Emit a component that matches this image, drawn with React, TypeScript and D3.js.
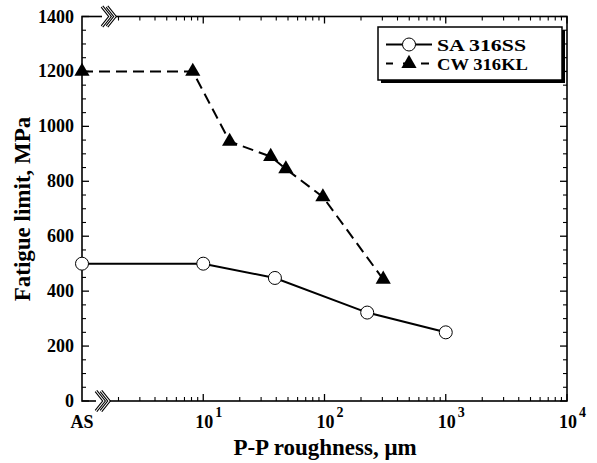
import React from "react";
import * as d3 from "d3";

// data (x: P-P roughness in um, "AS" drawn at x = 1)
const saX = [1, 10, 39, 225, 1000];
const saY = [500, 500, 448, 322, 250];
const cwX = [1, 8.2, 16.5, 36, 48, 97, 305];
const cwY = [1200, 1200, 945, 890, 845, 743, 443];
const yTicks = [0, 200, 400, 600, 800, 1000, 1200, 1400];
const xExpTicks = [1, 2, 3, 4];
const legendNames = ["SA 316SS", "CW 316KL"];

const W = 597;
const H = 463;
const left = 82;
const right = 567;
const top = 16.5;
const bottom = 401;
const font = "'Liberation Serif', 'Times New Roman', serif";

export default function App() {
  const x = d3.scaleLog().domain([1, 10000]).range([left, right]);
  const y = d3.scaleLinear().domain([0, 1400]).range([bottom, top]);

  const saLine = d3.line<number>().x((d, i) => x(saX[i])).y(d => y(d))(saY) || "";
  const cwLine = d3.line<number>().x((d, i) => x(cwX[i])).y(d => y(d))(cwY) || "";

  const minorX: number[] = [];
  for (let e = 0; e < 4; e++) {
    for (let m = 2; m <= 9; m++) minorX.push(m * Math.pow(10, e));
  }
  const minorY = d3.range(50, 1400, 50).filter(v => v % 200 !== 0);

  const tri = d3.symbol().type(d3.symbolTriangle).size(100)() || "";

  // break marks (double chevrons) on the x axes
  const chev = (cx: number, cy: number) => {
    const pts = (dx: number) =>
      `M${cx - 6 + dx},${cy - 10} L${cx + 2 + dx},${cy} L${cx - 6 + dx},${cy + 10}`;
    return (
      <g>
        <rect x={cx - 6} y={cy - 2} width={13} height={4} fill="white" />
        {[0, 5].map(dx => (
          <g key={dx}>
            <path d={pts(dx)} fill="none" stroke="black" strokeWidth={3.2} />
            <path d={pts(dx)} fill="none" stroke="white" strokeWidth={1.1} />
          </g>
        ))}
      </g>
    );
  };

  const rowY = [44.5, 63.5];

  return (
    <svg width={W} height={H} style={{ position: "absolute", left: 0, top: 0, background: "white" }}
      fontFamily={font} fontWeight="bold">
      {/* frame */}
      <rect x={left} y={top} width={right - left} height={bottom - top} fill="none" stroke="black" strokeWidth={1.6} />

      {/* y ticks, left and right, pointing in */}
      {yTicks.map(v => (
        <g key={"y" + v}>
          <line x1={left} x2={left + 7} y1={y(v)} y2={y(v)} stroke="black" strokeWidth={1.3} />
          <line x1={right} x2={right - 7} y1={y(v)} y2={y(v)} stroke="black" strokeWidth={1.3} />
          <text x={left - 8} y={y(v) + 6} textAnchor="end" fontSize={18}>{v}</text>
        </g>
      ))}
      {minorY.map(v => (
        <g key={"ym" + v}>
          <line x1={left} x2={left + 4} y1={y(v)} y2={y(v)} stroke="black" strokeWidth={1.1} />
          <line x1={right} x2={right - 4} y1={y(v)} y2={y(v)} stroke="black" strokeWidth={1.1} />
        </g>
      ))}

      {/* x ticks, bottom and top */}
      {xExpTicks.map(e => {
        const xv = x(Math.pow(10, e));
        return (
          <g key={"x" + e}>
            <line x1={xv} x2={xv} y1={bottom} y2={bottom - 7} stroke="black" strokeWidth={1.3} />
            <line x1={xv} x2={xv} y1={top} y2={top + 7} stroke="black" strokeWidth={1.3} />
            <text x={xv + 1} y={428} textAnchor="middle" fontSize={18}>10</text>
            <text x={xv + 12} y={417} textAnchor="start" fontSize={14}>{e}</text>
          </g>
        );
      })}
      {minorX.map(v => (
        <g key={"xm" + v}>
          <line x1={x(v)} x2={x(v)} y1={bottom} y2={bottom - 4} stroke="black" strokeWidth={1.1} />
          <line x1={x(v)} x2={x(v)} y1={top} y2={top + 4} stroke="black" strokeWidth={1.1} />
        </g>
      ))}
      <text x={left} y={428} textAnchor="middle" fontSize={18}>AS</text>

      {chev(102, bottom)}
      {chev(108, top)}

      {/* series */}
      <path d={cwLine} fill="none" stroke="black" strokeWidth={2} strokeDasharray="11,6" />
      <path d={saLine} fill="none" stroke="black" strokeWidth={2} />
      {saY.map((v, i) => (
        <circle key={"s" + i} cx={x(saX[i])} cy={y(v)} r={6.5} fill="white" stroke="black" strokeWidth={1} />
      ))}
      {cwY.map((v, i) => (
        <path key={"c" + i} d={tri} transform={`translate(${x(cwX[i])},${y(v)})`} fill="black" />
      ))}

      {/* legend */}
      <rect x={381} y={30} width={184} height={53} fill="black" />
      <rect x={378} y={27} width={184} height={53} fill="white" stroke="black" strokeWidth={1.5} />
      <line x1={386} x2={432} y1={rowY[0]} y2={rowY[0]} stroke="black" strokeWidth={2} />
      <circle cx={409} cy={rowY[0]} r={6.5} fill="white" stroke="black" strokeWidth={1} />
      <line x1={386} x2={432} y1={rowY[1]} y2={rowY[1]} stroke="black" strokeWidth={2} strokeDasharray="8,10" strokeDashoffset={1} />
      <path d={tri} transform={`translate(409,${rowY[1]})`} fill="black" />
      {legendNames.map((n, i) => (
        <text key={n} x={437} y={rowY[i] + 6} fontSize={16} textLength={i === 0 ? 89 : 91}
          lengthAdjust="spacingAndGlyphs">{n}</text>
      ))}

      {/* axis titles */}
      <text x={325} y={455} textAnchor="middle" fontSize={23}>P-P roughness, μm</text>
      <text transform="translate(30,209) rotate(-90)" textAnchor="middle" fontSize={23}>Fatigue limit, MPa</text>
    </svg>
  );
}
